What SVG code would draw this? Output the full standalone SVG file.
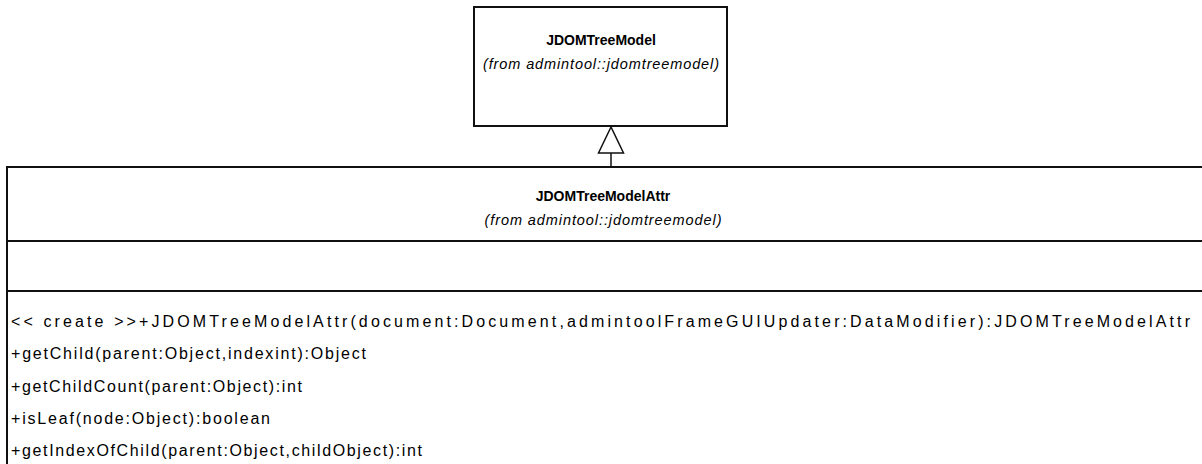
<svg xmlns="http://www.w3.org/2000/svg" width="1202" height="464" viewBox="0 0 1202 464">
  <style>
    .box { fill: #ffffff; stroke: #111111; stroke-width: 2; }
    .sep { stroke: #111111; stroke-width: 2; }
    .edge { fill: none; stroke: #111111; stroke-width: 1.5; }
    .title { font-family: "Liberation Sans", Arial, sans-serif; font-size: 14px; font-weight: bold; fill: #000; text-anchor: middle; }
    .pkg { font-family: "Liberation Sans", Arial, sans-serif; font-size: 14.5px; font-style: italic; fill: #000; text-anchor: middle; }
    .op { font-family: "Liberation Sans", Arial, sans-serif; font-size: 16px; fill: #000; }
  </style>
  <rect width="1202" height="464" fill="#ffffff"/>

  <!-- superclass -->
  <g id="JDOMTreeModel">
    <rect class="box" x="474" y="7" width="253" height="119"/>
    <text class="title" x="601" y="45">JDOMTreeModel</text>
    <text class="pkg" x="601" y="69" textLength="236" lengthAdjust="spacing">(from admintool::jdomtreemodel)</text>
  </g>

  <!-- subclass with its compartments -->
  <g id="JDOMTreeModelAttr">
    <rect class="box" x="7" y="167" width="1210" height="310"/>
    <line class="sep" x1="7" y1="241" x2="1217" y2="241"/>
    <line class="sep" x1="7" y1="291" x2="1217" y2="291"/>
    <text class="title" x="603" y="201">JDOMTreeModelAttr</text>
    <text class="pkg" x="603" y="225" textLength="237" lengthAdjust="spacing">(from admintool::jdomtreemodel)</text>
    <text class="op" x="11" y="327" textLength="1179" lengthAdjust="spacing">&lt;&lt; create &gt;&gt;+JDOMTreeModelAttr(document:Document,admintoolFrameGUIUpdater:DataModifier):JDOMTreeModelAttr</text>
    <text class="op" x="11" y="359" textLength="355" lengthAdjust="spacing">+getChild(parent:Object,indexint):Object</text>
    <text class="op" x="11" y="392" textLength="291" lengthAdjust="spacing">+getChildCount(parent:Object):int</text>
    <text class="op" x="11" y="424" textLength="259" lengthAdjust="spacing">+isLeaf(node:Object):boolean</text>
    <text class="op" x="11" y="456" textLength="411" lengthAdjust="spacing">+getIndexOfChild(parent:Object,childObject):int</text>
  </g>

  <!-- generalization -->
  <g id="connectors">
    <line class="edge" x1="611" y1="167" x2="611" y2="153"/>
    <polygon class="edge" points="611,127 598.5,153 623.5,153" fill="#ffffff"/>
  </g>
</svg>
